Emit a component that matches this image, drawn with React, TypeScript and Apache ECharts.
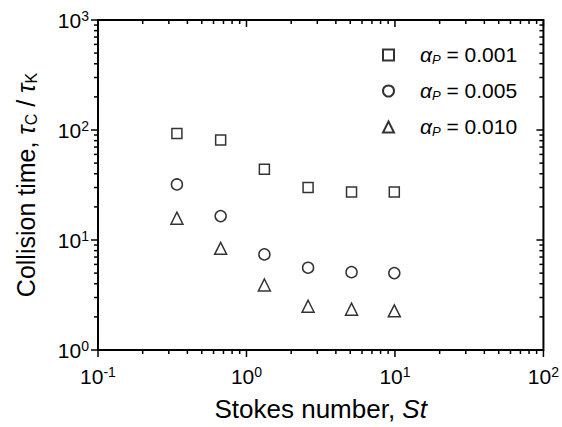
import React, { useEffect, useRef } from "react";
import * as echarts from "echarts";

const stokes = [0.34, 0.67, 1.32, 2.6, 5.1, 9.9];
const tauP001 = [93, 81, 44, 30, 27.3, 27.3];
const tauP005 = [32, 16.5, 7.4, 5.6, 5.1, 5.0];
const tauP010 = [15.8, 8.4, 3.9, 2.5, 2.35, 2.27];
const seriesNames = ["0.001", "0.005", "0.010"];
const xRange = [0.1, 100];
const yRange = [1, 1000];
const xMajorTicks = [0.1, 1, 10, 100];
const xMinorTicks = [0.2, 0.3, 0.4, 0.5, 0.6, 0.7, 0.8, 0.9, 2, 3, 4, 5, 6, 7, 8, 9, 20, 30, 40, 50, 60, 70, 80, 90];
const yMajorTicks = [1, 10, 100, 1000];
const yMinorTicks = [2, 3, 4, 5, 6, 7, 8, 9, 20, 30, 40, 50, 60, 70, 80, 90, 200, 300, 400, 500, 600, 700, 800, 900];

const FONT = "'Liberation Sans', Arial, sans-serif";

const powLabel = (v: number) => `{b|10}{e|${Math.round(Math.log10(v))}}`;

const labelRich = {
  b: { fontSize: 21, fontFamily: FONT, color: "#000", lineHeight: 22, verticalAlign: "middle" },
  e: { fontSize: 14, fontFamily: FONT, color: "#000", verticalAlign: "top", lineHeight: 14 },
};

function makeAxis(range: number[], position: string, main: boolean, margin: number, extra: any = {}) {
  return {
    type: "log",
    logBase: 10,
    min: range[0],
    max: range[1],
    position,
    axisLine: { show: false, onZero: false },
    axisTick: { show: false },
    minorTick: { show: false },
    splitLine: { show: false },
    minorSplitLine: { show: false },
    axisLabel: main ? { show: true, formatter: powLabel, rich: labelRich, margin } : { show: false },
    ...extra,
  };
}

// frame + tick items: [x, y, kind(0 frame, 1 x-tick, 2 y-tick), major(1/0)]
const frameItems = [
  [xRange[0], yRange[0], 0, 1],
  ...xMajorTicks.map((v) => [v, yRange[0], 1, 1]),
  ...xMinorTicks.map((v) => [v, yRange[0], 1, 0]),
  ...yMajorTicks.map((v) => [xRange[0], v, 2, 1]),
  ...yMinorTicks.map((v) => [xRange[0], v, 2, 0]),
];

const lineStyle = { stroke: "#000", lineWidth: 1.5 };

function renderFrame(_params: any, api: any) {
  const kind = api.value(2);
  const len = api.value(3) ? 7 : 4;
  if (kind === 0) {
    const a = api.coord([xRange[0], yRange[1]]);
    const b = api.coord([xRange[1], yRange[0]]);
    return {
      type: "rect",
      shape: { x: a[0], y: a[1], width: b[0] - a[0], height: b[1] - a[1] },
      style: { fill: "none", stroke: "#000", lineWidth: 2 },
    };
  }
  if (kind === 1) {
    const v = api.value(0);
    const p = api.coord([v, yRange[0]]);
    const q = api.coord([v, yRange[1]]);
    return {
      type: "group",
      children: [
        { type: "line", shape: { x1: p[0], y1: p[1], x2: p[0], y2: p[1] + len }, style: lineStyle },
        { type: "line", shape: { x1: q[0], y1: q[1], x2: q[0], y2: q[1] + len }, style: lineStyle },
      ],
    };
  }
  const v = api.value(1);
  const p = api.coord([xRange[0], v]);
  const q = api.coord([xRange[1], v]);
  return {
    type: "group",
    children: [
      { type: "line", shape: { x1: p[0] - len, y1: p[1], x2: p[0], y2: p[1] }, style: lineStyle },
      { type: "line", shape: { x1: q[0] - len, y1: q[1], x2: q[0], y2: q[1] }, style: lineStyle },
    ],
  };
}

const symbolStyle = { color: "#ffffff", borderColor: "#000000", borderWidth: 1.5 };

export default function App() {
  const ref = useRef<HTMLDivElement>(null);
  useEffect(() => {
    if (!ref.current) return;
    const chart = echarts.init(ref.current, undefined, { renderer: "svg" });
    const mk = (vals: number[]) => stokes.map((x, i) => [x, vals[i]]);
    chart.setOption({
      animation: false,
      animationDuration: 0,
      animationDurationUpdate: 0,
      grid: { left: 94, right: 17, top: 20, bottom: 77 },
      xAxis: [
        makeAxis(xRange, "bottom", true, 15, {
          name: "{n|Stokes number, }{i|St}",
          nameLocation: "middle",
          nameGap: 46,
          nameTextStyle: {
            rich: {
              n: { fontSize: 26, fontFamily: FONT, color: "#000" },
              i: { fontSize: 26, fontFamily: FONT, color: "#000", fontStyle: "italic" },
            },
          },
        }),
      ],
      yAxis: [
        makeAxis(yRange, "left", true, 9, {
          name: "{n|Collision time, }{t|τ}{s|C}{n| / }{t|τ}{s|K}",
          nameLocation: "middle",
          nameRotate: 90,
          nameGap: 59,
          nameTextStyle: {
            rich: {
              n: { fontSize: 25, fontFamily: FONT, color: "#000", lineHeight: 26, verticalAlign: "top" },
              t: { fontSize: 25, fontFamily: FONT, color: "#000", fontStyle: "italic", lineHeight: 26, verticalAlign: "top" },
              s: { fontSize: 16, fontFamily: FONT, color: "#000", lineHeight: 16, verticalAlign: "bottom", padding: [15, 0, 0, 0] },
            },
          },
        }),
      ],
      legend: {
        orient: "vertical",
        left: 377,
        top: 34,
        itemGap: 9,
        itemWidth: 11,
        itemHeight: 11,
        data: seriesNames,
        formatter: (name: string) => `{a|α}{p|P}{v| = ${name}}`,
        textStyle: {
          rich: {
            a: { fontSize: 21, fontFamily: FONT, color: "#000", fontStyle: "italic", lineHeight: 22, verticalAlign: "top", padding: [0, 0, 0, 21] },
            p: { fontSize: 13, fontFamily: FONT, color: "#000", fontStyle: "italic", lineHeight: 13, verticalAlign: "bottom", padding: [14, 0, 0, 0] },
            v: { fontSize: 21, fontFamily: FONT, color: "#000", lineHeight: 22, verticalAlign: "top" },
          },
        },
      },
      series: [
        {
          name: "frame",
          type: "custom",
          coordinateSystem: "cartesian2d",
          clip: false,
          silent: true,
          z: 1,
          renderItem: renderFrame,
          encode: { x: 0, y: 1 },
          data: frameItems,
        },
        { name: seriesNames[0], type: "scatter", z: 3, symbol: "rect", symbolSize: 10, itemStyle: symbolStyle, data: mk(tauP001) },
        { name: seriesNames[1], type: "scatter", z: 3, symbol: "circle", symbolSize: 11, itemStyle: symbolStyle, data: mk(tauP005) },
        { name: seriesNames[2], type: "scatter", z: 3, symbol: "triangle", symbolSize: 12, itemStyle: symbolStyle, data: mk(tauP010) },
      ],
    });
    return () => chart.dispose();
  }, []);
  return <div ref={ref} style={{ position: "fixed", left: 0, top: 0, width: 562, height: 427, background: "#fff" }} />;
}
